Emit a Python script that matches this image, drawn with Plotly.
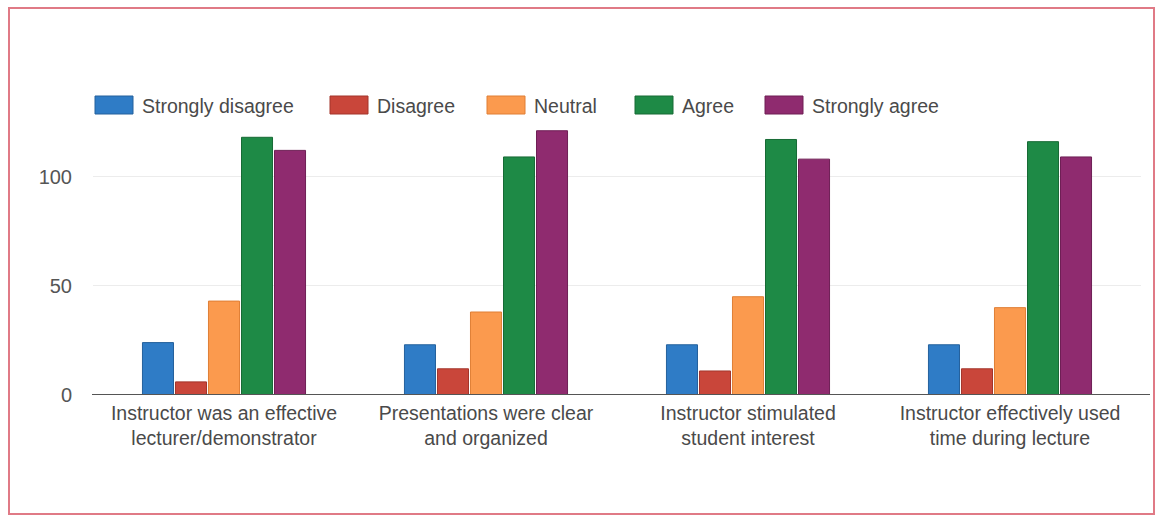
import plotly.graph_objects as go

categories = [
    "Instructor was an effective<br>lecturer/demonstrator",
    "Presentations were clear<br>and organized",
    "Instructor stimulated<br>student interest",
    "Instructor effectively used<br>time during lecture",
]
series_names = ["Strongly disagree", "Disagree", "Neutral", "Agree", "Strongly agree"]
strongly_disagree = [24, 23, 23, 23]
disagree = [6, 12, 11, 12]
neutral = [43, 38, 45, 40]
agree = [118, 109, 117, 116]
strongly_agree = [112, 121, 108, 109]
series_values = [strongly_disagree, disagree, neutral, agree, strongly_agree]
y_ticks = [0, 50, 100]

colors = ["#2f7cc6", "#c9463a", "#fb9a4e", "#1e8a46", "#8f2b6f"]
edges = ["#24619c", "#a3352b", "#e07f35", "#176a35", "#6e1f55"]

W, H = 1157, 520
ML, MR, MT, MB = 93, 16, 122, 125
PW, PH = W - ML - MR, H - MT - MB
FONT = "Arial, Liberation Sans, sans-serif"

def px_x(px):
    return (px - ML) / PW

def px_y(py):
    return (H - MB - py) / PH

fig = go.Figure()
for name, vals, c, e in zip(series_names, series_values, colors, edges):
    fig.add_trace(go.Bar(
        name=name, x=categories, y=vals,
        marker=dict(color=c, line=dict(color=e, width=1)),
        showlegend=False,
    ))

# manual legend (swatches + labels)
legend_x = [95, 330, 487, 635, 765]
shapes = []
annotations = []
for lx, name, c, e in zip(legend_x, series_names, colors, edges):
    shapes.append(dict(type="rect", xref="paper", yref="paper",
                       x0=px_x(lx), x1=px_x(lx + 38), y0=px_y(114), y1=px_y(96),
                       fillcolor=c, line=dict(color=e, width=1)))
    annotations.append(dict(xref="paper", yref="paper", x=px_x(lx + 45), y=px_y(106),
                            text=name, showarrow=False, xanchor="left", yanchor="middle",
                            font=dict(size=19.5, color="#4a4a4a", family=FONT)))

# page border
shapes.append(dict(type="rect", xref="paper", yref="paper",
                   x0=px_x(9), x1=px_x(1154), y0=px_y(8), y1=px_y(514),
                   line=dict(color="#e07a86", width=2), fillcolor="rgba(0,0,0,0)", layer="below"))
# baseline
shapes.append(dict(type="line", xref="paper", yref="y",
                   x0=px_x(92), x1=px_x(1150), y0=0, y1=0,
                   line=dict(color="#555555", width=2)))

fig.update_layout(
    width=W, height=H,
    margin=dict(l=ML, r=MR, t=MT, b=MB, autoexpand=False),
    paper_bgcolor="white", plot_bgcolor="white",
    barmode="group", bargap=0.37, bargroupgap=0.06,
    font=dict(family=FONT, color="#4a4a4a", size=19.5),
    shapes=shapes, annotations=annotations,
    xaxis=dict(showgrid=False, showline=False, zeroline=False,
               tickfont=dict(size=19.5, color="#4a4a4a"), ticks="",
               ticklabelstandoff=4),
    yaxis=dict(range=[0, 125], tickvals=y_ticks, ticktext=[str(v) for v in y_ticks],
               showgrid=True, gridcolor="#ececec", gridwidth=1, zeroline=False,
               showline=False, ticks="", ticklabelstandoff=20,
               tickfont=dict(size=20, color="#555555")),
)

fig.write_html("out.html",
               config={"displayModeBar": False},
               post_script="document.body.style.margin='0';document.body.style.padding='0';")
